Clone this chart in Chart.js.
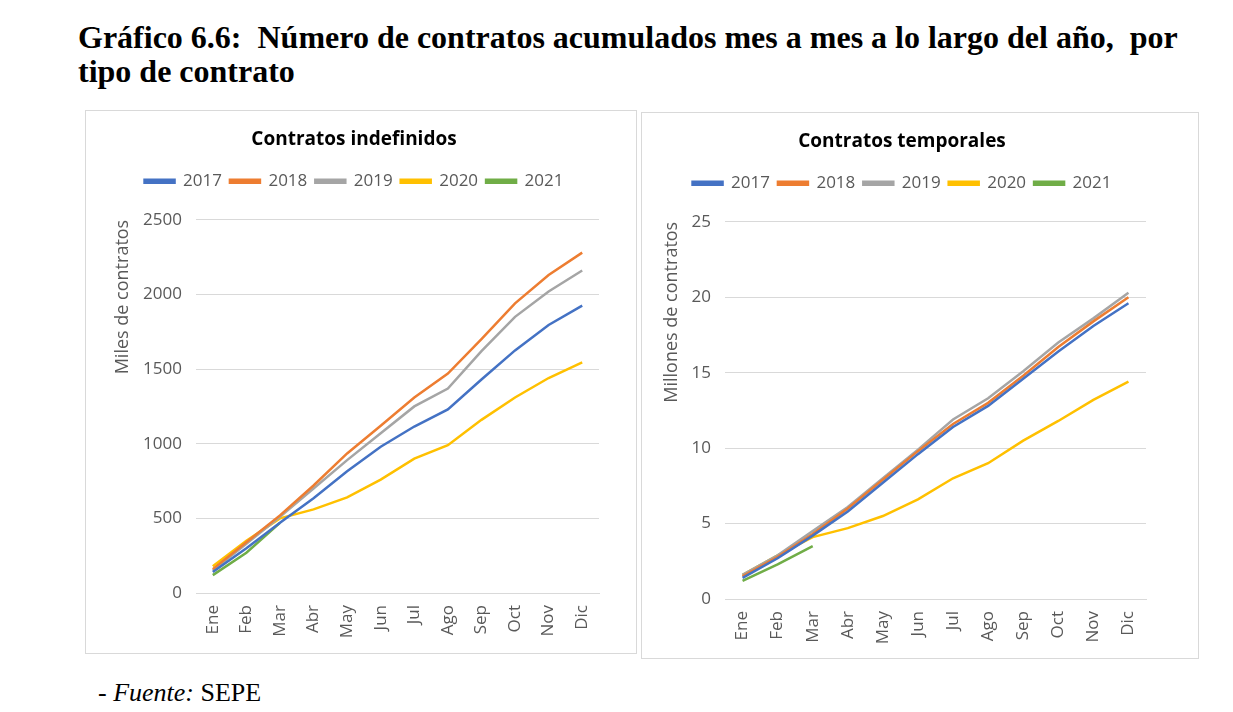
<!DOCTYPE html>
<html lang="es">
<head>
<meta charset="utf-8">
<script src="https://cdn.jsdelivr.net/npm/chart.js@4.4.1/dist/chart.umd.min.js"></script>
<style>
  body { margin: 0; background: #fff; }
  #page { position: relative; width: 1233px; height: 712px; overflow: hidden; }
  h1 {
    position: absolute; left: 78px; top: 20px; margin: 0; white-space: nowrap;
    font: bold 32px/34px "Liberation Serif", "Times New Roman", serif; color: #000;
  }
  .box { position: absolute; border: 1px solid #d9d9d9; background: #fff; }
  #boxIndef { left: 85px; top: 110px; width: 550px; height: 542px; }
  #boxTemp { left: 641px; top: 112px; width: 556px; height: 545px; }
  .fuente {
    position: absolute; left: 98px; top: 680px; white-space: nowrap;
    font: 26px/26px "Liberation Serif", "Times New Roman", serif; color: #000;
  }
</style>
</head>
<body>
<div id="page">
  <h1>Gráfico 6.6:&nbsp; Número de contratos acumulados mes a mes a lo largo del año,&nbsp; por<br>tipo de contrato</h1>
  <div class="box" id="boxIndef"><canvas id="chartIndef"></canvas></div>
  <div class="box" id="boxTemp"><canvas id="chartTemp"></canvas></div>
  <div class="fuente">- <i>Fuente:</i> SEPE</div>
</div>
<script>
// Meses y años
const meses = ['Ene', 'Feb', 'Mar', 'Abr', 'May', 'Jun', 'Jul', 'Ago', 'Sep', 'Oct', 'Nov', 'Dic'];
const anios = ['2017', '2018', '2019', '2020', '2021'];
const colores = ['#4472C4', '#ED7D31', '#A5A5A5', '#FFC000', '#70AD47'];

// Contratos indefinidos (miles)
const indef2017 = [140, 300, 470, 635, 815, 980, 1115, 1230, 1430, 1625, 1795, 1925];
const indef2018 = [160, 340, 520, 720, 935, 1120, 1310, 1470, 1700, 1940, 2130, 2280];
const indef2019 = [150, 330, 510, 700, 890, 1070, 1250, 1370, 1620, 1850, 2020, 2160];
const indef2020 = [180, 350, 500, 560, 640, 760, 900, 990, 1160, 1310, 1440, 1545];
const indef2021 = [120, 270, 470];

// Contratos temporales (millones)
const temp2017 = [1.4, 2.7, 4.2, 5.8, 7.7, 9.6, 11.4, 12.8, 14.6, 16.4, 18.1, 19.6];
const temp2018 = [1.5, 2.8, 4.3, 6.0, 7.9, 9.8, 11.6, 13.0, 14.8, 16.7, 18.4, 20.0];
const temp2019 = [1.6, 2.9, 4.5, 6.1, 8.0, 9.9, 11.9, 13.3, 15.1, 17.0, 18.6, 20.3];
const temp2020 = [1.6, 2.9, 4.1, 4.7, 5.5, 6.6, 8.0, 9.0, 10.5, 11.8, 13.2, 14.4];
const temp2021 = [1.2, 2.3, 3.5];

const FONT = '"Open Sans", "Liberation Sans", sans-serif';
const GREY = '#595959';
const GRID = '#d9d9d9';

function buildDatasets(series) {
    return series.map((data, i) => ({
        label: anios[i],
        data: data,
        borderColor: colores[i],
        backgroundColor: colores[i],
        borderWidth: 2.5,
        pointRadius: 0,
        tension: 0,
        fill: false
    }));
}

function renderChart(canvasId, title, yTitle, series, yMax, yStep, pad, yWidth, xHeight) {
    const ctx = document.getElementById(canvasId);
    return new Chart(ctx, {
        type: 'line',
        data: { labels: meses, datasets: buildDatasets(series) },
        options: {
            responsive: true,
            maintainAspectRatio: false,
            animation: false,
            layout: { padding: pad },
            plugins: {
                title: {
                    display: true,
                    text: title,
                    color: '#000',
                    font: { family: FONT, size: 19, weight: 'bold' },
                    padding: { top: 9, bottom: 14 }
                },
                // empty spacer between legend and plot area
                subtitle: {
                    display: true,
                    text: '',
                    weight: 500,
                    font: { size: 10, lineHeight: 1 },
                    padding: { top: 10, bottom: 0 }
                },
                legend: {
                    display: true,
                    position: 'top',
                    labels: {
                        color: GREY,
                        font: { family: FONT, size: 17 },
                        boxWidth: 30,
                        boxHeight: 3,
                        padding: 8
                    }
                },
                tooltip: { enabled: false }
            },
            scales: {
                x: {
                    offset: true,
                    grid: { display: false, drawTicks: false },
                    border: { display: true, color: GRID, width: 1 },
                    ticks: {
                        color: GREY,
                        font: { family: FONT, size: 17 },
                        maxRotation: 90,
                        minRotation: 90,
                        padding: 12,
                        autoSkip: false
                    },
                    afterFit: scale => { scale.height = xHeight; }
                },
                y: {
                    min: 0,
                    max: yMax,
                    grid: { color: GRID, drawTicks: false },
                    border: { display: false },
                    ticks: {
                        stepSize: yStep,
                        color: GREY,
                        font: { family: FONT, size: 17 },
                        padding: 14,
                        callback: value => String(value)
                    },
                    title: {
                        display: true,
                        text: yTitle,
                        align: 'end',
                        color: GREY,
                        font: { family: FONT, size: 18 },
                        padding: { top: 3, bottom: 0 }
                    },
                    afterFit: scale => { scale.width = yWidth; }
                }
            }
        }
    });
}

renderChart('chartIndef', 'Contratos indefinidos', 'Miles de contratos',
    [indef2017, indef2018, indef2019, indef2020, indef2021], 2500, 500,
    { left: 23, right: 37, top: 8, bottom: 5 }, 87, 55);

renderChart('chartTemp', 'Contratos temporales', 'Millones de contratos',
    [temp2017, temp2018, temp2019, temp2020, temp2021], 25, 5,
    { left: 16, right: 52, top: 8, bottom: 5 }, 67, 54);
</script>
</body>
</html>
